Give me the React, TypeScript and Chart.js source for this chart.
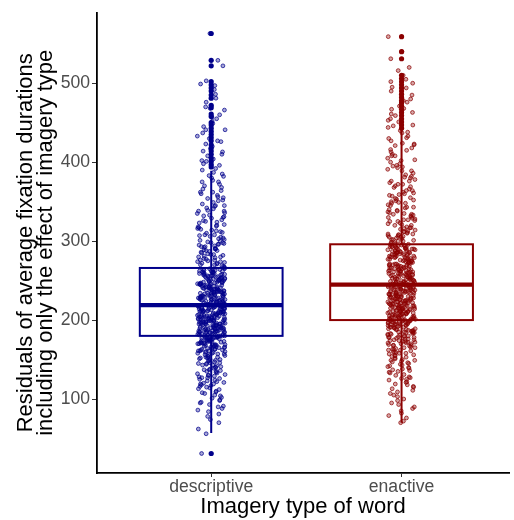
import React, { useEffect, useRef } from "react";
import { Chart, registerables } from "chart.js";
Chart.register(...registerables);

const CATEGORIES = ["descriptive", "enactive"];
const Y_TICKS = [100, 200, 300, 400, 500];
const COLORS = ["#00008B", "#8B0000"];
const POINT_COLORS = ["rgba(0,0,139,0.8)", "rgba(139,0,0,0.8)"];
const POINT_FILLS = ["rgba(0,0,139,0.35)", "rgba(139,0,0,0.35)"];

// box statistics: [lower whisker, Q1, median, Q3, upper whisker]
const DESCRIPTIVE_STATS = [57, 180, 219, 266, 389];
const ENACTIVE_STATS = [70, 200, 245, 296, 442];

const DESCRIPTIVE_OUTLIERS = [
  31, 394, 397, 401, 405, 410, 414, 418, 422, 427, 431, 435, 439, 443, 447, 450,
  458, 461, 469, 472, 481, 485, 490, 494, 498, 502, 522, 529, 563,
];
const ENACTIVE_OUTLIERS = [
  443, 447, 451, 455, 459, 463, 467, 471, 475, 478, 482, 486, 490, 494, 498, 502,
  506, 510, 531, 540, 559,
];

const DESCRIPTIVE_VALUES = [
  31, 56, 70, 78, 84, 88, 90, 93, 96, 99, 102, 105, 108, 110, 113, 115, 118, 120,
  122, 124, 126, 128, 130, 131, 133, 135, 136, 138, 140, 141, 143, 144, 146, 147,
  149, 150, 151, 153, 154, 155, 157, 158, 159, 160, 161, 162, 163, 164, 165, 166,
  167, 168, 168, 169, 170, 171, 171, 172, 173, 174, 174, 175, 176, 176, 177, 178,
  178, 179, 179, 180, 152, 137, 127, 119, 145,
  180, 181, 181, 182, 183, 183, 184, 185, 185, 186, 186, 187, 188, 188, 189, 190,
  190, 191, 191, 192, 193, 193, 194, 195, 195, 196, 196, 197, 198, 198, 199, 200,
  200, 201, 201, 202, 203, 203, 204, 205, 205, 206, 206, 207, 208, 208, 209, 210,
  210, 211, 211, 212, 213, 213, 214, 215, 215, 216, 216, 217, 218, 218, 219, 219,
  187, 194, 199, 204, 209, 214, 184, 197, 202, 212, 217,
  219, 220, 221, 221, 222, 223, 224, 224, 225, 226, 227, 227, 228, 229, 230, 231,
  231, 232, 233, 234, 235, 235, 236, 237, 238, 239, 239, 240, 241, 242, 243, 244,
  245, 245, 246, 247, 248, 249, 250, 251, 252, 253, 253, 254, 255, 256, 257, 258,
  259, 260, 261, 262, 263, 264, 265, 266, 222, 228, 233, 238, 243, 248, 252, 257,
  262, 226, 236, 246, 256, 230, 240, 250, 260, 234, 244,
  267, 269, 271, 273, 275, 277, 279, 281, 283, 285, 287, 289, 291, 293, 295, 297,
  299, 301, 303, 306, 308, 311, 313, 316, 318, 321, 324, 327, 330, 333, 336, 339,
  342, 345, 349, 352, 356, 360, 364, 368, 372, 377, 382, 387, 392, 398, 404, 410,
  417, 423, 430, 437, 445, 452, 460, 470, 481, 492, 503, 522, 529, 563, 272, 280,
  288, 296, 304, 314, 325, 338, 355, 375, 401, 427, 455,
  62, 74, 81, 86, 91, 95, 98, 101, 104, 107, 109, 112, 114, 116, 117, 119, 121,
  123, 125, 127, 129, 130, 132, 134, 135, 137, 139, 140, 142, 143, 145, 146, 148,
  149, 150, 152, 153, 154, 156, 157, 158, 159, 160, 161, 162, 163, 164, 165, 166,
  167, 168, 169, 170, 170, 171, 172, 173, 173, 174, 175, 175, 176, 177, 177, 178,
  179, 179, 180, 156, 163, 169, 172, 176, 166, 161,
  180, 181, 182, 182, 183, 184, 184, 185, 186, 187, 187, 188, 189, 189, 190, 191,
  192, 192, 193, 194, 194, 195, 196, 197, 197, 198, 199, 199, 200, 201, 202, 202,
  203, 204, 204, 205, 206, 207, 207, 208, 209, 209, 210, 211, 212, 212, 213, 214,
  214, 215, 216, 217, 217, 218, 219, 182, 186, 190, 193, 196, 200, 203, 207, 211,
  214, 218, 185, 189, 195, 201, 205, 210, 215, 188, 198,
  219, 220, 220, 221, 222, 223, 223, 224, 225, 226, 226, 227, 228, 229, 229, 230,
  231, 232, 232, 233, 234, 235, 236, 236, 237, 238, 239, 240, 240, 241, 242, 243,
  244, 245, 246, 246, 247, 248, 249, 250, 251, 252, 253, 254, 255, 256, 257, 258,
  259, 260, 261, 262, 263, 264, 265, 223, 227, 231, 235, 239, 242, 247, 251, 255,
  259, 264, 225, 233, 241, 249, 258, 229, 237, 253, 261,
  268, 270, 272, 274, 276, 278, 280, 282, 284, 286, 288, 290, 292, 294, 296, 298,
  300, 302, 305, 307, 310, 312, 315, 317, 320, 323, 326, 329, 332, 335, 338, 341,
  344, 347, 351, 354, 358, 362, 366, 370, 375, 380, 385, 390, 396, 402, 408, 414,
  420, 426, 433, 441, 449, 457, 466, 476, 486, 497, 270, 276, 283, 290, 298, 308,
  319, 331, 345, 362, 383, 413, 441, 468, 499, 274, 293,
];

const ENACTIVE_VALUES = [
  70, 76, 82, 88, 93, 98, 103, 107, 111, 115, 118, 121, 124, 127, 130, 133, 135,
  138, 140, 142, 144, 146, 148, 150, 152, 154, 156, 158, 159, 161, 162, 164, 165,
  167, 168, 170, 171, 172, 174, 175, 176, 178, 179, 180, 181, 182, 183, 184, 185,
  186, 187, 188, 189, 190, 191, 192, 193, 194, 195, 196, 197, 197, 198, 199, 199,
  200, 137, 149, 163, 173, 185, 193, 126, 155, 178,
  200, 201, 201, 202, 203, 204, 204, 205, 206, 207, 207, 208, 209, 210, 210, 211,
  212, 213, 213, 214, 215, 216, 216, 217, 218, 219, 219, 220, 221, 222, 222, 223,
  224, 225, 225, 226, 227, 228, 228, 229, 230, 231, 231, 232, 233, 234, 234, 235,
  236, 237, 237, 238, 239, 240, 240, 241, 242, 243, 243, 244, 245, 203, 209, 215,
  221, 227, 233, 239, 206, 212, 218, 224, 230, 236, 242,
  245, 246, 247, 248, 249, 250, 251, 251, 252, 253, 254, 255, 256, 257, 258, 259,
  260, 261, 262, 263, 264, 265, 266, 267, 268, 269, 270, 271, 272, 273, 274, 275,
  276, 277, 278, 279, 280, 281, 282, 283, 284, 285, 286, 287, 288, 289, 290, 291,
  292, 293, 294, 295, 296, 248, 253, 258, 263, 268, 273, 278, 283, 288, 293, 255,
  265, 275, 285, 260, 270, 280, 290, 250, 262, 274, 286,
  297, 299, 301, 303, 305, 307, 309, 311, 314, 316, 318, 321, 323, 326, 328, 331,
  334, 337, 340, 343, 346, 349, 352, 355, 359, 362, 366, 370, 374, 378, 382, 386,
  391, 395, 400, 405, 410, 415, 421, 427, 433, 440, 447, 455, 463, 471, 480, 490,
  500, 510, 531, 540, 559, 300, 306, 312, 320, 329, 338, 348, 358, 369, 381, 394,
  408, 423, 438, 453, 468, 486, 502, 520, 312, 335, 360,
  72, 79, 85, 90, 95, 100, 105, 109, 113, 116, 119, 122, 125, 128, 131, 134, 136,
  139, 141, 143, 145, 147, 149, 151, 153, 155, 157, 159, 160, 162, 163, 165, 166,
  168, 169, 170, 172, 173, 174, 176, 177, 178, 179, 180, 182, 183, 184, 185, 186,
  187, 188, 189, 190, 191, 192, 193, 194, 195, 195, 196, 197, 198, 198, 199, 200,
  168, 175, 181, 188, 194, 158, 171, 184, 191, 197,
  200, 201, 202, 203, 203, 204, 205, 206, 206, 207, 208, 209, 209, 210, 211, 212,
  212, 213, 214, 215, 215, 216, 217, 218, 218, 219, 220, 221, 221, 222, 223, 224,
  224, 225, 226, 227, 227, 228, 229, 230, 230, 231, 232, 233, 233, 234, 235, 236,
  236, 237, 238, 239, 239, 240, 241, 242, 242, 243, 244, 245, 202, 208, 214, 220,
  226, 232, 238, 244, 205, 211, 217, 223, 229, 235, 241,
  245, 246, 247, 248, 249, 250, 251, 252, 253, 254, 255, 256, 256, 257, 258, 259,
  260, 261, 262, 263, 264, 265, 266, 267, 268, 269, 270, 271, 272, 273, 274, 275,
  276, 277, 278, 279, 280, 281, 282, 283, 284, 285, 286, 287, 288, 289, 290, 291,
  292, 293, 294, 295, 296, 247, 252, 257, 261, 266, 271, 276, 281, 286, 291, 295,
  249, 259, 269, 279, 289, 254, 264, 284, 294,
  298, 300, 302, 304, 306, 308, 310, 313, 315, 317, 320, 322, 325, 327, 330, 333,
  336, 339, 342, 345, 348, 351, 354, 357, 361, 364, 368, 372, 376, 380, 384, 389,
  393, 398, 403, 408, 413, 418, 424, 430, 437, 444, 451, 459, 467, 476, 485, 495,
  505, 516, 302, 309, 317, 325, 334, 343, 353, 364, 376, 389, 402, 416, 431, 446,
  461, 478, 494, 308, 327, 350, 372, 396, 422, 305, 332,
];

const JITTER_WIDTH = 0.146;
const BOX_HALF = 0.375;

// deterministic jitter offset (horizontal position only)
function jitterOffset(i: number, seed: number): number {
  let h = (Math.imul(i + 1, 2654435761) ^ Math.imul(seed + 7, 40503)) >>> 0;
  h = Math.imul(h ^ (h >>> 15), 2246822519) >>> 0;
  h = (h ^ (h >>> 13)) >>> 0;
  return ((h % 10000) / 10000 - 0.5) * JITTER_WIDTH;
}

const boxPlugin = {
  id: "boxplots",
  afterDatasetsDraw(chart: any) {
    const { ctx, scales } = chart;
    const xs = scales.x;
    const ys = scales.y;
    const stats = [DESCRIPTIVE_STATS, ENACTIVE_STATS];
    ctx.save();
    stats.forEach((s, k) => {
      const cx = xs.getPixelForValue(k + 1);
      const x0 = xs.getPixelForValue(k + 1 - BOX_HALF);
      const x1 = xs.getPixelForValue(k + 1 + BOX_HALF);
      const [lw, q1, med, q3, uw] = s.map((v) => ys.getPixelForValue(v));
      ctx.strokeStyle = COLORS[k];
      ctx.lineWidth = 2;
      ctx.beginPath();
      ctx.moveTo(cx, q3);
      ctx.lineTo(cx, uw);
      ctx.moveTo(cx, q1);
      ctx.lineTo(cx, lw);
      ctx.stroke();
      ctx.strokeRect(x0, q3, x1 - x0, q1 - q3);
      ctx.lineWidth = 4.2;
      ctx.beginPath();
      ctx.moveTo(x0, med);
      ctx.lineTo(x1, med);
      ctx.stroke();
    });
    ctx.restore();
  },
};

export default function App() {
  const ref = useRef<HTMLCanvasElement | null>(null);
  useEffect(() => {
    if (!ref.current) return;
    const jitterData = (vals: number[], cat: number) =>
      vals.map((v, i) => ({ x: cat + jitterOffset(i, cat), y: v }));
    const chart = new Chart(ref.current, {
      type: "scatter",
      data: {
        datasets: [
          {
            data: DESCRIPTIVE_OUTLIERS.map((v) => ({ x: 1, y: v })),
            pointRadius: 2.6,
            pointBorderWidth: 0,
            backgroundColor: COLORS[0],
            borderColor: COLORS[0],
          },
          {
            data: ENACTIVE_OUTLIERS.map((v) => ({ x: 2, y: v })),
            pointRadius: 2.6,
            pointBorderWidth: 0,
            backgroundColor: COLORS[1],
            borderColor: COLORS[1],
          },
          {
            data: jitterData(DESCRIPTIVE_VALUES, 1),
            pointRadius: 1.9,
            pointBorderWidth: 0.9,
            borderColor: POINT_COLORS[0],
            backgroundColor: POINT_FILLS[0],
          },
          {
            data: jitterData(ENACTIVE_VALUES, 2),
            pointRadius: 1.9,
            pointBorderWidth: 0.9,
            borderColor: POINT_COLORS[1],
            backgroundColor: POINT_FILLS[1],
          },
        ],
      },
      options: {
        responsive: false,
        animation: false,
        devicePixelRatio: 1,
        layout: { padding: { top: 11, right: 0, left: 0, bottom: 0 } },
        plugins: {
          legend: { display: false },
          tooltip: { enabled: false },
        },
        scales: {
          x: {
            type: "linear",
            min: 0.4,
            max: 2.565,
            afterBuildTicks: (scale: any) => {
              scale.ticks = [{ value: 1 }, { value: 2 }];
            },
            afterFit: (scale: any) => {
              scale.height = 47;
            },
            ticks: {
              autoSkip: false,
              maxRotation: 0,
              padding: 1,
              color: "#4D4D4D",
              font: { family: "'Liberation Sans', Arial, sans-serif", size: 17.6, lineHeight: 1.05 },
              callback: (v: any) => CATEGORIES[Number(v) - 1] ?? "",
            },
            grid: { drawOnChartArea: false, drawTicks: true, tickLength: 4, color: "#333", lineWidth: 1 },
            border: { display: true, color: "#000", width: 1.8 },
            title: {
              display: true,
              text: "Imagery type of word",
              color: "#000",
              font: { family: "'Liberation Sans', Arial, sans-serif", size: 22, lineHeight: 1.0 },
              padding: { top: 0, bottom: 2 },
            },
          },
          y: {
            type: "linear",
            min: 6.3,
            max: 589.5,
            afterBuildTicks: (scale: any) => {
              scale.ticks = Y_TICKS.map((v) => ({ value: v }));
            },
            afterFit: (scale: any) => {
              scale.width = 97;
            },
            ticks: {
              padding: 2,
              color: "#4D4D4D",
              font: { family: "'Liberation Sans', Arial, sans-serif", size: 17.6 },
            },
            grid: { drawOnChartArea: false, drawTicks: true, tickLength: 5, color: "#333", lineWidth: 1 },
            border: { display: true, color: "#000", width: 1.8 },
            title: {
              display: true,
              text: [
                "Residuals of average fixation durations",
                "including only the effect of imagery type",
              ],
              color: "#000",
              font: { family: "'Liberation Sans', Arial, sans-serif", size: 22, lineHeight: 0.95 },
              padding: { top: 15, bottom: 0 },
            },
          },
        },
      },
      plugins: [boxPlugin],
    } as any);
    return () => chart.destroy();
  }, []);

  return (
    <div style={{ position: "fixed", left: 0, top: 0, width: 514, height: 520, background: "#fff" }}>
      <canvas ref={ref} width={514} height={520} style={{ display: "block" }} />
    </div>
  );
}
